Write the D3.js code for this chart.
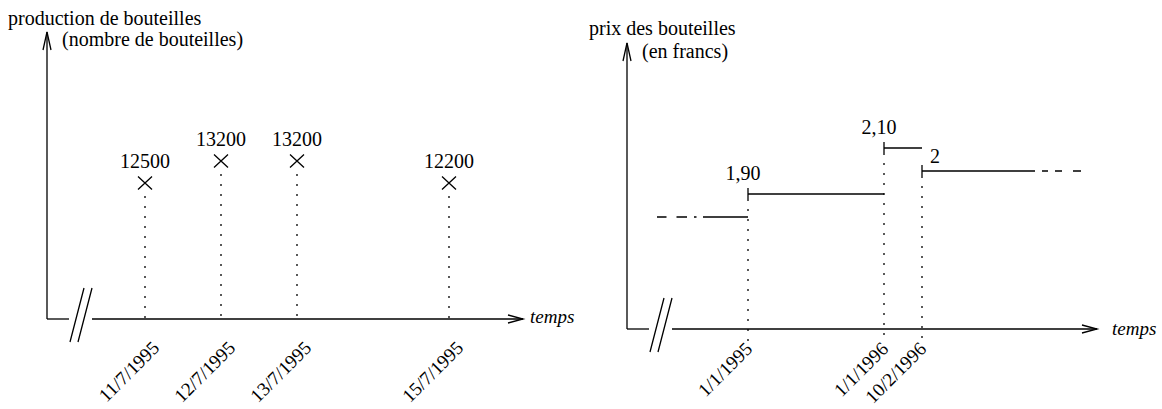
<!DOCTYPE html>
<html>
<head>
<meta charset="utf-8">
<script src="https://cdn.jsdelivr.net/npm/d3@7"></script>
<style>
  html, body { margin: 0; padding: 0; background: #fff; }
  svg { display: block; font-family: "Liberation Serif", "Times New Roman", serif; }
</style>
</head>
<body>
<svg id="chart" width="1162" height="409"></svg>
<script>
// Daily bottle production
const productionDates = ["1995-07-11", "1995-07-12", "1995-07-13", "1995-07-15"];
const productionValues = [12500, 13200, 13200, 12200];
const productionTickLabels = ["11/7/1995", "12/7/1995", "13/7/1995", "15/7/1995"];

// Bottle price, changing in steps
const priceDates = ["1995-01-01", "1996-01-01", "1996-02-10"];
const priceValues = [1.90, 2.10, 2.00];
const priceLabels = ["1,90", "2,10", "2"];
const priorPrice = 1.80;
const priceTickLabels = ["1/1/1995", "1/1/1996", "10/2/1996"];

const parse = d3.utcParse("%Y-%m-%d");
const svg = d3.select("#chart");
const INK = "#000";
const SW = 1.3;
const FONT = "20px";
const TICK_FONT = "19px";

// Axes with an arrow on each end and a broken time axis near the origin
function frame(g, o) {
  const { ox, oy, top, right } = o;
  g.append("line").attr("x1", ox).attr("x2", ox).attr("y1", oy).attr("y2", top);
  g.append("path").attr("d", `M${ox - 4},${top + 18}L${ox},${top}L${ox + 4},${top + 18}`);
  g.append("line").attr("x1", ox).attr("x2", ox + 22).attr("y1", oy).attr("y2", oy);
  g.append("line").attr("x1", ox + 45).attr("x2", right).attr("y1", oy).attr("y2", oy);
  g.append("path").attr("d", `M${right - 15},${oy - 4}L${right},${oy}L${right - 15},${oy + 4}`);
  g.append("path").attr("d",
    `M${ox + 23},${oy + 23}L${ox + 37},${oy - 31}M${ox + 31},${oy + 23}L${ox + 45},${oy - 31}`);
  g.selectAll("line,path").attr("stroke", INK).attr("stroke-width", SW).attr("fill", "none");

  g.append("text").attr("x", right + o.labelGap).attr("y", oy + o.labelDy)
    .attr("font-size", "19px").attr("font-style", "italic").text("temps");

  o.title.forEach((t, i) => {
    g.append("text").attr("x", t.x).attr("y", t.y).attr("font-size", FONT).text(t.text);
  });
}

function timeAxis(g, x, oy, dates, labels, shift) {
  const lookup = new Map(dates.map((d, i) => [+d, labels[i]]));
  const ax = g.append("g")
    .attr("transform", `translate(0,${oy})`)
    .call(d3.axisBottom(x).tickValues(dates).tickSize(0).tickFormat(d => lookup.get(+d)));
  ax.select(".domain").remove();
  ax.attr("font-family", null).attr("font-size", TICK_FONT);
  ax.selectAll("text")
    .attr("fill", INK)
    .attr("y", null).attr("dy", null)
    .attr("text-anchor", "end")
    .attr("transform", `translate(${shift[0]},${shift[1]}) rotate(-45)`);
}

// ---- Production chart ----
{
  const g = svg.append("g");
  const o = {
    ox: 47, oy: 319, top: 32, right: 523, labelGap: 7, labelDy: 4,
    title: [
      { text: "production de bouteilles", x: 8, y: 25 },
      { text: "(nombre de bouteilles)", x: 62, y: 46 }
    ]
  };
  frame(g, o);

  const dates = productionDates.map(parse);
  const x = d3.scaleUtc().domain([dates[0], dates[dates.length - 1]]).range([145, 449]);
  const y = d3.scaleQuantize().domain([12200, 13200]).range([183, 161]);

  const pts = g.append("g").selectAll("g").data(productionValues).join("g")
    .attr("transform", (d, i) => `translate(${x(dates[i])},${y(d)})`);

  pts.append("line")
    .attr("y1", 13).attr("y2", (d) => o.oy - y(d))
    .attr("stroke", INK).attr("stroke-width", SW).attr("stroke-dasharray", "2,8");
  pts.append("path")
    .attr("d", "M-7,-6.5L7,6.5M-7,6.5L7,-6.5")
    .attr("stroke", INK).attr("stroke-width", SW).attr("fill", "none");
  pts.append("text")
    .attr("y", -15).attr("text-anchor", "middle").attr("font-size", FONT)
    .text(d => d);

  timeAxis(g, x, o.oy, dates, productionTickLabels, [15, 30]);
}

// ---- Price chart ----
{
  const g = svg.append("g");
  const o = {
    ox: 627, oy: 329, top: 43, right: 1097, labelGap: 15, labelDy: 6,
    title: [
      { text: "prix des bouteilles", x: 589, y: 35 },
      { text: "(en francs)", x: 642, y: 58 }
    ]
  };
  frame(g, o);

  const dates = priceDates.map(parse);
  const x = d3.scaleUtc().domain(dates).range([748, 884, 922]);
  const y = d3.scaleLinear().domain([priorPrice, d3.max(priceValues)]).range([217, 148]);
  const n = dates.length;

  // earlier price level, fading in from the left
  g.append("line")
    .attr("x1", x(dates[0]) - 91).attr("x2", x(dates[0]))
    .attr("y1", y(priorPrice)).attr("y2", y(priorPrice))
    .attr("stroke", INK).attr("stroke-width", SW)
    .attr("stroke-dasharray", "9.5,10,10.5,7,2.5,6.5,100");

  const steps = g.append("g").selectAll("g").data(priceValues).join("g")
    .attr("transform", (d, i) => `translate(${x(dates[i])},${y(d)})`);

  // dotted drop line to the time axis
  steps.append("line")
    .attr("y1", 5).attr("y2", d => o.oy + 12 - y(d))
    .attr("stroke", INK).attr("stroke-width", SW).attr("stroke-dasharray", "2,8");
  // start-of-period tick
  steps.append("line")
    .attr("y1", -6).attr("y2", 5)
    .attr("stroke", INK).attr("stroke-width", SW);
  // price level until the next change; the last one runs on
  steps.append("line")
    .attr("x2", (d, i) => i < n - 1 ? x(dates[i + 1]) - x(dates[i]) : 160)
    .attr("stroke", INK).attr("stroke-width", SW)
    .attr("stroke-dasharray", (d, i) => i < n - 1 ? null : "113,7,6,7,7,11,8");

  // label above the tick after a rise, beside it after a drop
  steps.append("text")
    .attr("font-size", FONT)
    .each(function (d, i) {
      const prev = i === 0 ? priorPrice : priceValues[i - 1];
      const t = d3.select(this);
      if (d >= prev) t.attr("x", -5).attr("y", -14).attr("text-anchor", "middle");
      else t.attr("x", 8).attr("y", -8).attr("text-anchor", "start");
    })
    .text((d, i) => priceLabels[i]);

  timeAxis(g, x, o.oy, dates, priceTickLabels, [5, 21]);
}
</script>
</body>
</html>
